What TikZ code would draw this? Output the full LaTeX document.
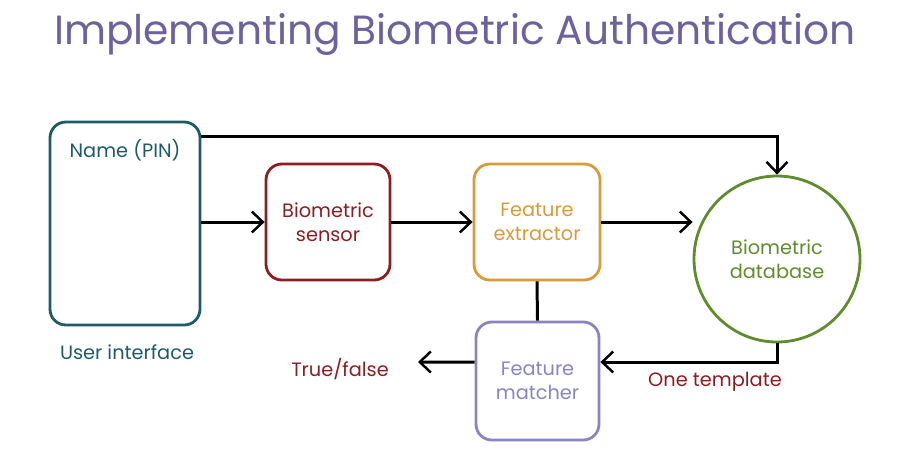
\documentclass[tikz,border=0pt]{standalone}
\usepackage{fontspec}
\setmainfont{Poppins}
\usetikzlibrary{arrows.meta}
\definecolor{uiteal}{HTML}{1F5A6B}
\definecolor{sensred}{HTML}{8B1E22}
\definecolor{extorange}{HTML}{D89A3A}
\definecolor{dbgreen}{HTML}{5E8C2E}
\definecolor{matchpurple}{HTML}{8A84C2}
\definecolor{titlepurple}{HTML}{6E629E}
\tikzset{
	diagram/.style={font=\fontsize{11}{13.6}\selectfont, >={Straight Barb[length=2.2mm,width=4.2mm,line width=1.4pt]}},
	unit/.style={draw, line width=1.6pt, rounded corners=9pt, fill=white, align=center, inner sep=3pt},
	store/.style={draw, circle, line width=1.6pt, fill=white, align=center, inner sep=2pt},
	flow/.style={->, line width=1.7pt},
	note/.style={font=\fontsize{11}{13.6}\selectfont, inner sep=1.5pt},
}

\begin{document}
\begin{tikzpicture}[diagram]
\useasboundingbox (0,0) rectangle (17.96,-9.02);

\node[text=titlepurple, font=\fontsize{23.2}{28}\selectfont] (title) at (9.1,-0.68)
    {Implementing Biometric Authentication};

\node[unit, draw=uiteal, minimum width=30mm, minimum height=40.6mm] (ui) at (2.5,-4.47) {};
\node[note, text=uiteal] (pin) at (2.5,-3.0) {Name (PIN)};
\node[note, text=uiteal] (uilabel) at (2.54,-7.04) {User interface};

\node[unit, draw=sensred, text=sensred, minimum width=24.8mm, minimum height=23.2mm] (sensor) at (6.56,-4.44)
    {Biometric\\ sensor};
\node[unit, draw=extorange, text=extorange, minimum width=25.2mm, minimum height=23.2mm] (extractor) at (10.74,-4.44)
    {Feature\\ extractor};
\node[store, draw=dbgreen, text=dbgreen, minimum size=33.2mm] (db) at (15.54,-5.18)
    {Biometric\\ database};
\node[unit, draw=matchpurple, text=matchpurple, minimum width=24.6mm, minimum height=23.6mm] (matcher) at (10.75,-7.62)
    {Feature\\ matcher};

\coordinate (verdict) at (8.36,-7.24);
\node[note, text=sensred] (tf) at (6.8,-7.38) {True/false};
\node[note, text=sensred] (tpl) at (14.3,-7.64) {One template};

\draw[flow] (pin.north -| ui.east) -| (db.north);
\draw[flow] (ui.east |- sensor) -- (sensor);
\draw[flow] (sensor) -- (extractor);
\draw[flow] (extractor) -- (extractor -| db.west);
\draw[line width=1.7pt] (extractor.south) -- (matcher.north);
\draw[flow] (db.south) |- ([yshift=3.8mm]matcher.east);
\draw[flow] ([yshift=3.8mm]matcher.west) -- (verdict);

\end{tikzpicture}
\end{document}
